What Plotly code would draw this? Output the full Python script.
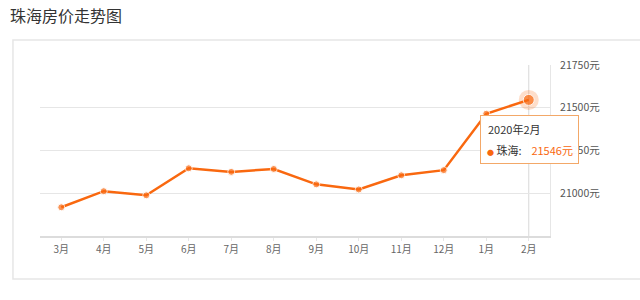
import plotly.graph_objects as go

months = ["3月", "4月", "5月", "6月", "7月", "8月", "9月", "10月", "11月", "12月", "1月", "2月"]
prices = [20918, 21012, 20988, 21146, 21125, 21142, 21052, 21022, 21105, 21135, 21465, 21546]
y_ticks = [21000, 21250, 21500, 21750]
y_tick_labels = ["21000元", "21250元", "21500元", "21750元"]
title_text = "珠海房价走势图"
tip_date = "2020年2月"
city = "珠海"

ORANGE = "#f9680f"
FONT = "Noto Sans CJK SC"

fig = go.Figure()
fig.add_trace(go.Scatter(
    x=[months[-1]], y=[prices[-1]], mode="markers",
    marker=dict(size=20, color="rgba(249,104,15,0.22)"),
    hoverinfo="skip", showlegend=False))
fig.add_trace(go.Scatter(
    x=months, y=prices, mode="lines+markers",
    line=dict(color=ORANGE, width=2.5),
    marker=dict(size=[7] * (len(months) - 1) + [11], color=ORANGE),
    hoverinfo="skip", showlegend=False))

# crosshair
fig.add_shape(type="line", xref="x", yref="paper", x0=months[-1], x1=months[-1],
              y0=0, y1=1, line=dict(color="#d8d8d8", width=1), layer="below")
# card
fig.add_shape(type="rect", xref="paper", yref="paper", x0=-0.053, x1=1.3,
              y0=-0.251, y1=1.146, line=dict(color="#e6e6e6", width=1.5), layer="below")

# tooltip box
fig.add_annotation(x=months[-1], y=prices[-1], xref="x", yref="y",
                   text=" ", showarrow=False, width=97, height=47,
                   yanchor="top", xanchor="center", yshift=-15, xshift=1,
                   bgcolor="rgba(255,255,255,0.97)", bordercolor="#f3a868",
                   borderwidth=1, borderpad=0)
fig.add_annotation(x=months[-1], y=prices[-1], xref="x", yref="y",
                   text=tip_date, showarrow=False, xanchor="left", yanchor="middle",
                   xshift=-43, yshift=-29, font=dict(family=FONT, size=11, color="#333"))
fig.add_annotation(x=months[-1], y=prices[-1], xref="x", yref="y",
                   text=f"<span style='color:{ORANGE};font-size:7px'>●</span>&nbsp;{city}:&nbsp;&nbsp;&nbsp;&nbsp;<span style='color:{ORANGE}'>{prices[-1]}元</span>",
                   showarrow=False, xanchor="left", yanchor="middle",
                   xshift=-44, yshift=-50, font=dict(family=FONT, size=11, color="#333"))

fig.update_layout(
    width=640, height=300,
    margin=dict(l=40, r=90, t=65, b=64),
    paper_bgcolor="white", plot_bgcolor="white",
    title=dict(text=title_text, xref="container", yref="container", x=10 / 640,
               xanchor="left", y=1 - 16 / 300, yanchor="middle",
               font=dict(family=FONT, size=16, color="#333")),
    xaxis=dict(type="category", categoryorder="array", categoryarray=months,
               range=[-0.5, len(months) - 0.5], showgrid=False, zeroline=False,
               showline=True, linecolor="#dcdcdc", linewidth=2,
               ticks="outside", ticklen=3, tickcolor="#e6e6e6",
               tickfont=dict(family=FONT, size=10, color="#666")),
    yaxis=dict(side="right", range=[20750, 21750], tickvals=y_ticks, ticktext=y_tick_labels,
               showgrid=True, gridcolor="#e6e6e6", zeroline=False,
               showline=True, linecolor="#e6e6e6", mirror=False,
               ticks="", ticklabelstandoff=7,
               tickfont=dict(family=FONT, size=10.5, color="#555")),
)

fig.write_html("out.html")
